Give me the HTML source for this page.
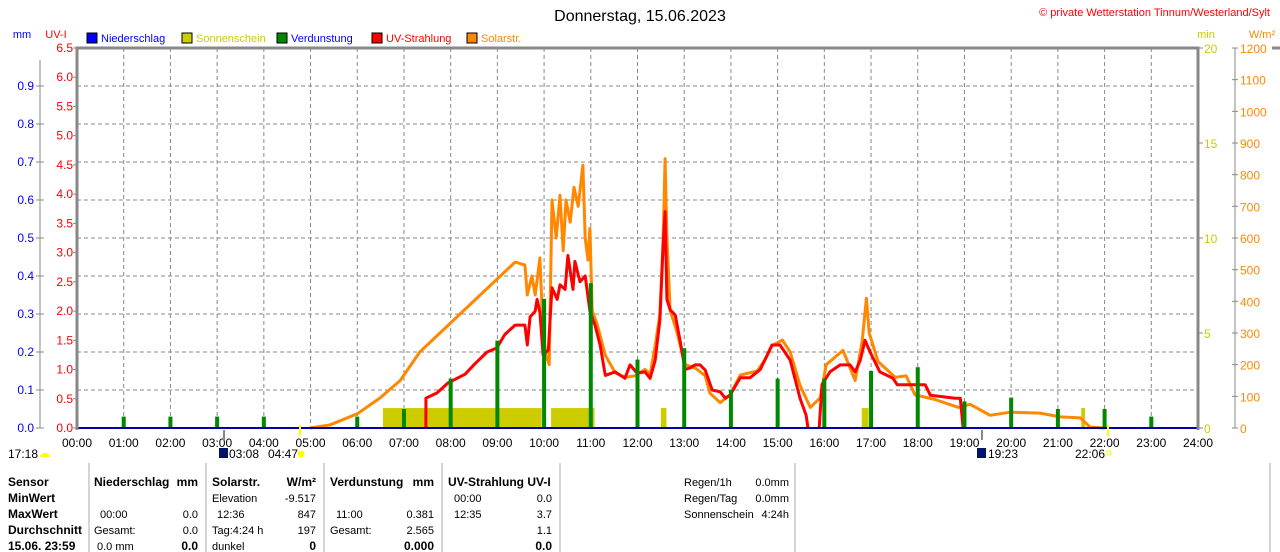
<!DOCTYPE html>
<html><head><meta charset="utf-8">
<style>
body{margin:0;background:#fff;width:1280px;height:552px;overflow:hidden;font-family:"Liberation Sans",sans-serif}
svg{position:absolute;left:0;top:0}
text{font-family:"Liberation Sans",sans-serif}
</style></head>
<body>
<svg id="c" width="1280" height="552"></svg>
<script>
// ---- data ----
const hourTicks=["00:00","01:00","02:00","03:00","04:00","05:00","06:00","07:00","08:00","09:00","10:00","11:00","12:00","13:00","14:00","15:00","16:00","17:00","18:00","19:00","20:00","21:00","22:00","23:00","24:00"];
const uvTicks=[0,0.5,1,1.5,2,2.5,3,3.5,4,4.5,5,5.5,6,6.5];
const mmTicks=[0,0.1,0.2,0.3,0.4,0.5,0.6,0.7,0.8,0.9];
const minTicks=[0,5,10,15,20];
const wTicks=[0,100,200,300,400,500,600,700,800,900,1000,1100,1200];
const solarT=[4.99,5.42,6.0,6.49,6.92,7.34,9.38,9.59,9.64,9.74,9.81,9.91,9.98,10.04,10.11,10.17,10.26,10.34,10.41,10.47,10.56,10.64,10.73,10.83,10.88,10.94,10.98,11.03,11.13,11.31,11.52,11.73,11.95,12.16,12.27,12.38,12.48,12.55,12.59,12.63,12.7,12.83,13.02,13.23,13.45,13.55,13.77,13.98,14.2,14.56,14.73,14.88,15.1,15.27,15.48,15.7,15.91,16.04,16.4,16.66,16.81,16.9,16.96,17.15,17.52,17.75,17.94,18.37,18.87,19.12,19.55,19.98,20.62,21.05,21.48,21.69,22.01];
const solarV=[0,10,45,95,150,240,524,515,420,480,420,537,300,230,200,720,600,735,560,720,650,760,700,830,600,530,630,370,330,230,175,160,165,185,170,260,360,600,850,600,370,310,200,190,165,110,80,105,167,180,215,260,278,240,135,65,95,200,245,150,275,410,300,210,160,165,105,90,65,75,40,50,47,35,32,3,0];
const uvT=[7.47,7.47,7.71,7.94,8.31,8.52,8.78,8.99,9.16,9.38,9.59,9.64,9.7,9.81,9.85,9.91,9.98,10.09,10.17,10.28,10.34,10.45,10.51,10.62,10.66,10.77,10.88,10.98,11.09,11.2,11.31,11.52,11.73,11.84,11.99,12.16,12.27,12.38,12.48,12.55,12.59,12.63,12.7,12.81,12.91,13.02,13.13,13.23,13.34,13.45,13.6,13.77,13.88,13.98,14.2,14.41,14.63,14.88,15.05,15.27,15.48,15.61,15.65,15.65,15.89,15.89,15.95,16.12,16.34,16.55,16.66,16.77,16.87,16.98,17.19,17.47,17.56,18.16,18.27,18.8,18.91,18.97];
const uvV=[0,0.51,0.6,0.77,0.92,1.1,1.3,1.37,1.6,1.76,1.76,1.42,1.9,2.0,2.2,1.98,1.25,1.33,2.4,2.2,2.45,2.37,2.95,2.37,2.85,2.5,2.6,2.0,1.76,1.42,0.9,0.96,0.85,1.08,0.94,0.96,0.85,1.16,1.85,3.15,3.7,2.2,2.02,1.93,1.5,1.0,1.03,1.08,1.08,0.99,0.65,0.62,0.51,0.56,0.86,0.86,1.0,1.42,1.42,1.16,0.51,0.22,0,null,null,0,0.74,0.96,1.08,1.08,0.96,1.16,1.5,1.3,0.96,0.85,0.74,0.74,0.56,0.51,0.51,0];
const evapH=[1,2,3,4,6,7,8,9,10,11,12,13,14,15,16,17,18,19,20,21,22,23];
const evapV=[0.03,0.03,0.03,0.03,0.03,0.05,0.13,0.23,0.34,0.381,0.18,0.21,0.1,0.13,0.13,0.15,0.16,0.07,0.08,0.05,0.05,0.03];
const sunStart=[6.55,10.15,12.5,16.8,21.5];
const sunEnd=[9.95,11.08,12.62,16.95,21.58];
const sunMin=[1.05,1.05,1.05,1.05,1.05];

// ---- axes ----
const X0=77,X1=1198,Y0=428,Y1=48;
const xs=h=>X0+(X1-X0)*h/24;
const yUV=v=>Y0-(Y0-Y1)*v/6.5;
const yMM=v=>Y0-(Y0-Y1)*v/1.0;
const yMin=v=>Y0-(Y0-Y1)*v/20;
const yW=v=>Y0-(Y0-Y1)*v/1200;
const svg=document.getElementById('c');
const NS='http://www.w3.org/2000/svg';
function el(tag,attrs,parent){const e=document.createElementNS(NS,tag);for(const k in attrs)e.setAttribute(k,attrs[k]);(parent||svg).appendChild(e);return e;}
function txt(x,y,s,fill,anchor,size,bold){const t=el('text',{x:x,y:y,fill:fill||'#000','text-anchor':anchor||'start'});t.style.fontSize=(size||12)+'px';if(bold)t.style.fontWeight='bold';t.textContent=s;return t;}

let t=txt(640,21,'Donnerstag, 15.06.2023','#000','middle',16);


t=txt(1270,16,'© private Wetterstation Tinnum/Westerland/Sylt','#f00','end',11);



t=txt(22,38,'mm','#00f','middle',11);
t=txt(56,38,'UV-I','#f00','middle',11);
t=txt(1206,38,'min','#cc0','middle',11);
t=txt(1262,38,'W/m²','#f80','middle',11);

const legN=['Niederschlag','Sonnenschein','Verdunstung','UV-Strahlung','Solarstr.'];
const legC=['#00f','#cc0','#080','#f00','#f80'];
const legT=['#00f','#cc0','#00f','#f00','#f80'];
const legX=[87,182,277,372,467];
for(let i=0;i<5;i++){
  const g=el('g',{});
  
  
  el('rect',{x:legX[i],y:33,width:10,height:10,fill:legC[i],stroke:'#000','stroke-width':1},g);
  g.appendChild(txt(legX[i]+14,42,legN[i],legT[i],'start',11));
}

const grid=el('g',{stroke:'#888','stroke-width':1,'stroke-dasharray':'4,3',fill:'none'});


for(let h=1;h<24;h++)el('line',{x1:xs(h),x2:xs(h),y1:Y1,y2:Y0},grid);
for(let i=1;i<10;i++)el('line',{x1:X0,x2:X1,y1:yMM(mmTicks[i]),y2:yMM(mmTicks[i])},grid);

for(let i=0;i<sunStart.length;i++){
  const r=el('rect',{x:xs(sunStart[i]),y:yMin(sunMin[i]),width:xs(sunEnd[i])-xs(sunStart[i]),height:Y0-yMin(sunMin[i]),fill:'#cc0'});
  
  
}

let d='';for(let i=0;i<solarT.length;i++)d+=(i?'L':'M')+xs(solarT[i]).toFixed(1)+' '+yW(solarV[i]).toFixed(1);
let p=el('path',{d:d,stroke:'#f80','stroke-width':3,fill:'none','stroke-linejoin':'round'});



d='';let pen=false;for(let i=0;i<uvT.length;i++){if(uvV[i]===null){pen=false;continue;}d+=(pen?'L':'M')+xs(uvT[i]).toFixed(1)+' '+yUV(uvV[i]).toFixed(1);pen=true;}
p=el('path',{d:d,stroke:'#f00','stroke-width':3,fill:'none','stroke-linejoin':'round'});



for(let i=0;i<evapH.length;i++){
  const r=el('rect',{x:xs(evapH[i])-2,y:yMM(evapV[i]),width:4,height:Y0-yMM(evapV[i]),fill:'#080'});
  
  
}
p=el('line',{x1:X0,x2:X1,y1:Y0,y2:Y0,stroke:'#00a','stroke-width':2});



p=el('path',{d:`M${X0} ${Y0+2}V${Y1}H${X1}V${Y0+2}`,stroke:'#888','stroke-width':3,fill:'none'});



const axL=el('g',{});
uvTicks.forEach(v=>{el('line',{x1:X0-4,x2:X0,y1:yUV(v),y2:yUV(v),stroke:'#888'},axL);axL.appendChild(txt(X0-4,yUV(v)+4,v.toFixed(1),'#f00','end',12));});
const axM=el('g',{});
el('line',{x1:40,x2:40,y1:60,y2:Y0,stroke:'#888'},axM);
mmTicks.forEach(v=>{el('line',{x1:36,x2:44,y1:yMM(v),y2:yMM(v),stroke:'#888'},axM);axM.appendChild(txt(34,yMM(v)+4,v.toFixed(1),'#00f','end',12));});
const axR=el('g',{});
minTicks.forEach(v=>{el('line',{x1:X1,x2:X1+5,y1:yMin(v),y2:yMin(v),stroke:'#888'},axR);axR.appendChild(txt(X1+6,yMin(v)+5,String(v),'#cc0','start',12));});
const axW=el('g',{});
el('line',{x1:1235,x2:1235,y1:Y1,y2:Y0,stroke:'#888'},axW);
wTicks.forEach(v=>{el('line',{x1:1232,x2:1238,y1:yW(v),y2:yW(v),stroke:'#888'},axW);axW.appendChild(txt(1240,yW(v)+5,String(v),'#f80','start',12));});
el('line',{x1:1272,x2:1280,y1:48,y2:48,stroke:'#888','stroke-width':3});

const axX=el('g',{});
hourTicks.forEach((s,i)=>{axX.appendChild(txt(xs(i),447,s,'#000','middle',12));});

function lab(x,y,s,name){const tt=txt(x,y,s,'#000','start',12);}
lab(8,458,'17:18','moonset-time');
el('path',{d:'M40 457a5 4 0 0 1 10 0z',fill:'#ff0'});
el('rect',{x:219,y:448,width:9,height:10,fill:'#00156a'});
lab(229,458,'03:08','dawn-time');
lab(268,458,'04:47','sunrise-time');
el('circle',{cx:301,cy:454,r:3.5,fill:'#ff0'});
el('rect',{x:977,y:448,width:9,height:10,fill:'#00156a'});
lab(988,458,'19:23','dusk-time');
lab(1075,458,'22:06','sunset-time');
el('rect',{x:1107,y:451,width:3.5,height:4,fill:'none',stroke:'#ff0'});
el('line',{x1:300,x2:300,y1:425,y2:436,stroke:'#ff0','stroke-width':2});
el('line',{x1:1108,x2:1108,y1:425,y2:436,stroke:'#ff0','stroke-width':2});
el('line',{x1:224,x2:224,y1:430,y2:440,stroke:'#888','stroke-width':2});
el('line',{x1:982,x2:982,y1:430,y2:440,stroke:'#888','stroke-width':2});

const tb=el('g',{});
[89,206,324,442,560,795,1270].forEach(x=>el('line',{x1:x,x2:x,y1:463,y2:552,stroke:'#aaa'},tb));
const rows=[486,502,518,534,550];
function c(x,r,s,anchor,bold){tb.appendChild(txt(x,rows[r],s,'#000',anchor||'start',bold?12:11,bold));}
['Sensor','MinWert','MaxWert','Durchschnitt','15.06. 23:59'].forEach((s,i)=>c(8,i,s,'start',true));
c(94,0,'Niederschlag','start',true);c(198,0,'mm','end',true);
c(100,2,'00:00');c(198,2,'0.0','end');c(94,3,'Gesamt:');c(198,3,'0.0','end');c(97,4,'0.0 mm');c(198,4,'0.0','end',true);
c(212,0,'Solarstr.','start',true);c(316,0,'W/m²','end',true);
c(212,1,'Elevation');c(316,1,'-9.517','end');c(217,2,'12:36');c(316,2,'847','end');c(212,3,'Tag:4:24 h');c(316,3,'197','end');c(212,4,'dunkel');c(316,4,'0','end',true);
c(330,0,'Verdunstung','start',true);c(434,0,'mm','end',true);
c(336,2,'11:00');c(434,2,'0.381','end');c(330,3,'Gesamt:');c(434,3,'2.565','end');c(434,4,'0.000','end',true);
c(448,0,'UV-Strahlung UV-I','start',true);
c(454,1,'00:00');c(552,1,'0.0','end');c(454,2,'12:35');c(552,2,'3.7','end');c(552,3,'1.1','end');c(552,4,'0.0','end',true);
c(684,0,'Regen/1h');c(789,0,'0.0mm','end');c(684,1,'Regen/Tag');c(789,1,'0.0mm','end');c(684,2,'Sonnenschein');c(789,2,'4:24h','end');
</script>
</body></html>
